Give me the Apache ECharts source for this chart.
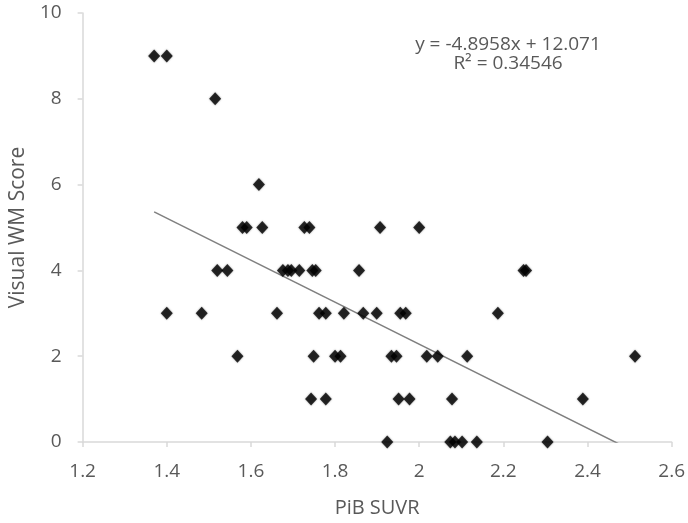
<!DOCTYPE html>
<html>
<head>
<meta charset="utf-8">
<script src="https://cdn.jsdelivr.net/npm/echarts@6/dist/echarts.min.js"></script>
<style>
  html, body { margin: 0; padding: 0; background: #fff; }
  #main { width: 688px; height: 523px; }
</style>
</head>
<body>
<div id="main"></div>
<script>
// PiB SUVR (x) 和 Visual WM Score (y)，按分数分组读取
const xScore9 = [1.37, 1.40]
const xScore8 = [1.515]
const xScore6 = [1.619]
const xScore5 = [1.580, 1.590, 1.627, 1.727, 1.739, 1.907, 2.0]
const xScore4 = [1.52, 1.544, 1.676, 1.688, 1.696, 1.715, 1.746, 1.754, 1.857, 2.248, 2.254]
const xScore3 = [1.40, 1.483, 1.662, 1.762, 1.778, 1.821, 1.867, 1.899, 1.955, 1.968, 2.187]
const xScore2 = [1.568, 1.749, 1.80, 1.813, 1.934, 1.946, 2.018, 2.044, 2.114, 2.513]
const xScore1 = [1.743, 1.778, 1.951, 1.977, 2.078, 2.389]
const xScore0 = [1.924, 2.074, 2.085, 2.102, 2.137, 2.305]

// 趋势线 y = slope * x + intercept
const slope = -4.8958
const intercept = 12.071
const rSquared = 0.34546

const groups = [
  [9, xScore9], [8, xScore8], [6, xScore6], [5, xScore5], [4, xScore4],
  [3, xScore3], [2, xScore2], [1, xScore1], [0, xScore0]
]
let points = []
groups.forEach(([score, xs]) => {
  xs.forEach(x => points.push([x, score]))
})
const xs = points.map(p => p[0])
const xMin = Math.min(...xs)
const xMax = Math.max(...xs)
const trend = [
  [xMin, slope * xMin + intercept],
  [xMax, slope * xMax + intercept]
]

const textColor = '#595959'
const axisColor = '#d9d9d9'
const font = 'Open Sans'

const myChart = echarts.init(document.getElementById('main'))
let option = {
  animation: false,
  grid: {
    left: 74,
    right: 14,
    top: 13,
    bottom: 79
  },
  xAxis: {
    type: 'value',
    min: 1.2,
    max: 2.6,
    interval: 0.2,
    name: 'PiB SUVR',
    nameLocation: 'middle',
    nameGap: 56,
    nameTextStyle: { color: textColor, fontSize: 20, fontFamily: font },
    axisLine: { show: true, lineStyle: { color: axisColor, width: 1.5 } },
    axisTick: { show: true, length: 5, lineStyle: { color: axisColor, width: 1.5 } },
    splitLine: { show: false },
    axisLabel: {
      color: textColor,
      fontSize: 19,
      fontFamily: font,
      margin: 20,
      formatter: v => String(Math.round(v * 10) / 10)
    }
  },
  yAxis: {
    type: 'value',
    min: 0,
    max: 10,
    interval: 2,
    name: 'Visual WM Score',
    nameLocation: 'middle',
    nameGap: 47,
    nameTextStyle: { color: textColor, fontSize: 21, fontFamily: font },
    axisLine: { show: true, lineStyle: { color: axisColor, width: 1.5 } },
    axisTick: { show: true, length: 5, lineStyle: { color: axisColor, width: 1.5 } },
    splitLine: { show: false },
    axisLabel: { color: textColor, fontSize: 19, fontFamily: font, margin: 21 }
  },
  series: [
    {
      type: 'line',
      data: trend,
      symbol: 'none',
      clip: true,
      lineStyle: { color: '#7f7f7f', width: 1.5 },
      z: 1
    },
    {
      type: 'scatter',
      data: points,
      symbol: 'diamond',
      symbolSize: [12, 13],
      itemStyle: { color: '#000', shadowColor: 'rgba(0,0,0,0.5)', shadowBlur: 2 },
      z: 2
    }
  ],
  graphic: {
    elements: [
      {
        type: 'text',
        x: 508,
        y: 45,
        style: {
          text: 'y = ' + slope + 'x + ' + intercept,
          font: '19px "Open Sans"',
          fill: textColor,
          align: 'center',
          verticalAlign: 'middle'
        }
      },
      {
        type: 'text',
        x: 508,
        y: 64,
        style: {
          text: 'R² = ' + rSquared,
          font: '19px "Open Sans"',
          fill: textColor,
          align: 'center',
          verticalAlign: 'middle'
        }
      }
    ]
  }
}
myChart.setOption(option)
</script>
</body>
</html>
